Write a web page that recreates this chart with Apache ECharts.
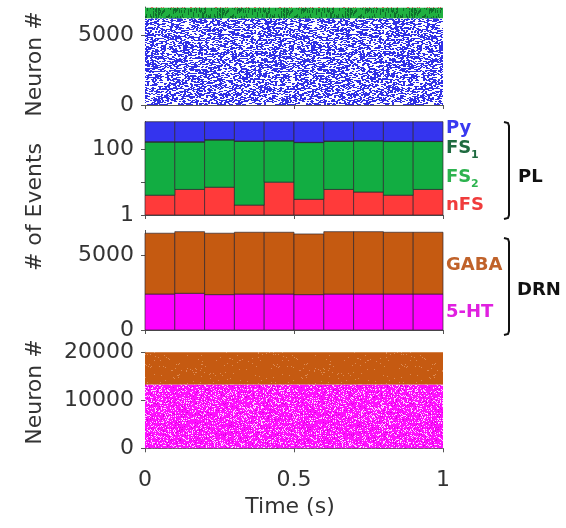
<!DOCTYPE html>
<html>
<head>
<meta charset="utf-8">
<script src="https://cdn.jsdelivr.net/npm/echarts@6/dist/echarts.min.js"></script>
<style>
  html, body { margin: 0; padding: 0; background: #fff; }
  #chart { width: 566px; height: 528px; }
</style>
</head>
<body>
<div id="chart"></div>
<script>
// ---- time axis ----
const timeRange = [0, 1];
const timeTicks = [0, 0.5, 1];
const binEdges = [0, 0.1, 0.2, 0.3, 0.4, 0.5, 0.6, 0.7, 0.8, 0.9, 1.0];

// ---- PL: events per 100 ms bin ----
const plNFS = [4, 6, 7, 2, 10, 3, 6, 5, 4, 6];
const plFS2 = [163, 161, 186, 174, 170, 157, 170, 175, 168, 166];
const plFS1 = [3, 3, 3, 3, 3, 3, 3, 3, 3, 3];
const plPy  = [520, 520, 494, 511, 507, 527, 511, 507, 515, 515];

// ---- DRN: events per 100 ms bin ----
const drn5HT  = [2420, 2470, 2380, 2420, 2420, 2380, 2420, 2420, 2420, 2420];
const drnGABA = [4090, 4145, 4130, 4155, 4155, 4080, 4195, 4195, 4155, 4155];

// ---- raster populations (neuron index ranges) ----
const plRasterPy  = [0, 6200];
const plRasterFS  = [6200, 6950];
const plRasterNFS = [6950, 7000];
const drnRaster5HT  = [0, 13300];
const drnRasterGABA = [13300, 20000];

// ---- y-axis ticks ----
const plRasterTicks  = [0, 5000];
const plCountTicks   = [1, 10, 100];
const plCountLabels  = [1, 100];
const drnCountTicks  = [0, 5000];
const drnRasterTicks = [0, 10000, 20000];

// ---- colours ----
const C = {
  py: '#3434ee', fs1: '#1f6b40', fs2: '#12ad42', nfs: '#ff3a3a',
  gaba: '#c55a11', ht: '#ff00ff',
  pyLabel: '#3a3af0', fs1Label: '#1f6b40', fs2Label: '#2db34f', nfsLabel: '#f03c3c',
  gabaLabel: '#c0622a', htLabel: '#e020e0',
  axis: '#555', text: '#333'
};
const FONT = '"DejaVu Sans", sans-serif';

// Speckle textures used to paint the spike rasters
function speckle(size, bg, layers, seed) {
  const c = document.createElement('canvas');
  c.width = c.height = size;
  const ctx = c.getContext('2d');
  if (bg) { ctx.fillStyle = bg; ctx.fillRect(0, 0, size, size); }
  let s = seed >>> 0;
  const next = () => (s = (s * 1664525 + 1013904223) >>> 0) / 4294967296;
  layers.forEach(l => {
    ctx.fillStyle = l.color;
    const n = Math.round(-Math.log(1 - l.coverage) * size * size / (l.w * l.h));
    for (let i = 0; i < n; i++) {
      const x = Math.floor(next() * size), y = Math.floor(next() * size);
      ctx.fillRect(x, y, l.w, l.h);
    }
  });
  return c;
}
const texPy   = speckle(128, '#ffffff', [{ color: '#3030e6', coverage: 0.55, w: 2, h: 1 }], 11);
const texFS   = speckle(64, '#20b040', [{ color: '#0e6e2c', coverage: 0.35, w: 1, h: 3 }], 23);
const texNFS  = speckle(64, null, [{ color: '#e84040', coverage: 0.18, w: 1, h: 1 }], 37);
const tex5HT  = speckle(128, '#ff10ff', [{ color: '#ffd0ff', coverage: 0.2, w: 1, h: 1 }, { color: '#e000e0', coverage: 0.1, w: 1, h: 1 }], 41);
const texGABA = speckle(128, '#c55a11', [{ color: '#dc8a52', coverage: 0.03, w: 1, h: 1 }], 53);

// Grid rectangles: left/right shared, vertical placement per panel
const LEFT = 145, RIGHT = 123;
const grids = [
  { left: LEFT, right: RIGHT, top: 7, height: 98 },
  { left: LEFT, right: RIGHT, top: 121.5, height: 93.5 },
  { left: LEFT, right: RIGHT, top: 230.4, height: 99.6 },
  { left: LEFT, right: RIGHT, top: 352.3, height: 96 }
];

function xAxis(gridIndex, showLabels) {
  return {
    type: 'value', gridIndex, min: timeRange[0], max: timeRange[1], interval: 0.5,
    axisLine: { show: true, onZero: false, lineStyle: { color: C.axis, width: 1 } },
    axisTick: { show: true, length: 4, lineStyle: { color: C.axis } },
    axisLabel: { show: showLabels, fontSize: 22, color: C.text, margin: 21, fontFamily: FONT,
      customValues: timeTicks, formatter: v => String(v) },
    splitLine: { show: false }
  };
}
function yAxis(gridIndex, opts) {
  return Object.assign({
    type: 'value', gridIndex,
    axisLine: { show: true, onZero: false, lineStyle: { color: C.axis, width: 1 } },
    axisTick: { show: true, length: 4, lineStyle: { color: C.axis }, customValues: opts.ticks },
    axisLabel: { fontSize: 22, color: C.text, margin: 11, fontFamily: FONT,
      customValues: opts.labels || opts.ticks, formatter: v => String(v) },
    splitLine: { show: false }
  }, opts.extra);
}

// Rectangle painter: each item is [x0, x1, y0, y1]
function rectRenderer(fill, stroke) {
  return function (params, api) {
    const a = api.coord([api.value(0), api.value(3)]);
    const b = api.coord([api.value(1), api.value(2)]);
    return {
      type: 'rect',
      shape: { x: a[0], y: a[1], width: b[0] - a[0], height: b[1] - a[1] },
      style: stroke ? { fill, stroke, lineWidth: 0.8 } : { fill }
    };
  };
}
function rasterSeries(gridIndex, range, tex) {
  return {
    type: 'custom', xAxisIndex: gridIndex, yAxisIndex: gridIndex,
    renderItem: rectRenderer({ image: tex, repeat: 'repeat' }, null),
    encode: { x: [0, 1], y: [2, 3] },
    data: [[timeRange[0], timeRange[1], range[0], range[1]]],
    silent: true
  };
}
// Stacked histogram layers built from the per-bin counts.
// The first layer starts at the axis floor; every later layer sits on the running sum.
function stackedSeries(gridIndex, layers, floor) {
  const sums = binEdges.slice(1).map(() => 0);
  return layers.map((l, k) => {
    const data = l.values.map((v, i) => {
      const y0 = k === 0 ? floor : sums[i];
      sums[i] += v;
      return [binEdges[i], binEdges[i + 1], y0, sums[i]];
    });
    return {
      type: 'custom', xAxisIndex: gridIndex, yAxisIndex: gridIndex,
      renderItem: rectRenderer(l.color, 'rgba(45,35,45,0.85)'),
      encode: { x: [0, 1], y: [2, 3] },
      data, silent: true
    };
  });
}

const plLayers = [
  { values: plNFS, color: C.nfs },
  { values: plFS2, color: C.fs2 },
  { values: plFS1, color: C.fs1 },
  { values: plPy, color: C.py }
];
const drnLayers = [
  { values: drn5HT, color: C.ht },
  { values: drnGABA, color: C.gaba }
];

function label(text, x, y, color, size) {
  return { type: 'text', x, y, silent: true,
    style: { text, fill: color, font: 'bold ' + (size || 17) + 'px ' + FONT, textVerticalAlign: 'middle' } };
}
function axisTitle(text, x, y, rotate, size) {
  return { type: 'text', x, y, rotation: rotate ? Math.PI / 2 : 0, silent: true,
    style: { text, fill: C.text, font: (size || 22) + 'px ' + FONT, textAlign: 'center', textVerticalAlign: 'middle' } };
}
function bracket(x, y0, y1) {
  return { type: 'polyline', silent: true,
    shape: { points: [[x - 5, y0], [x - 1, y0 + 1], [x, y0 + 4], [x, y1 - 4], [x - 1, y1 - 1], [x - 5, y1]] },
    style: { stroke: '#111', lineWidth: 2, fill: null } };
}

const option = {
  animation: false,
  backgroundColor: '#fff',
  grid: grids,
  xAxis: [xAxis(0, false), xAxis(1, false), xAxis(2, false), xAxis(3, true)],
  yAxis: [
    yAxis(0, { ticks: plRasterTicks, extra: { min: 0, max: 7000 } }),
    yAxis(1, { ticks: plCountTicks, labels: plCountLabels, extra: { type: 'log', logBase: 10, min: 1, max: 700 } }),
    yAxis(2, { ticks: drnCountTicks, extra: { min: 0, max: 6700 } }),
    yAxis(3, { ticks: drnRasterTicks, extra: { min: 0, max: 20000 } })
  ],
  series: [
    rasterSeries(0, plRasterPy, texPy),
    rasterSeries(0, plRasterFS, texFS),
    rasterSeries(0, plRasterNFS, texNFS),
    ...stackedSeries(1, plLayers, 1),
    ...stackedSeries(2, drnLayers, 0),
    rasterSeries(3, drnRaster5HT, tex5HT),
    rasterSeries(3, drnRasterGABA, texGABA)
  ],
  graphic: [
    axisTitle('Neuron #', 35, 64, true),
    axisTitle('# of Events', 35, 207, true),
    axisTitle('Neuron #', 35, 392, true),
    axisTitle('Time (s)', 290, 507, false, 22),
    label('Py', 446, 128, C.pyLabel, 18),
    label('FS', 446, 148, C.fs1Label, 18),
    label('1', 471, 155, C.fs1Label, 11),
    label('FS', 446, 177, C.fs2Label, 18),
    label('2', 471, 184, C.fs2Label, 11),
    label('nFS', 446, 205, C.nfsLabel, 18),
    label('GABA', 446, 265, C.gabaLabel, 18),
    label('5-HT', 446, 312, C.htLabel, 18),
    bracket(509, 122, 219),
    label('PL', 518, 177, '#111', 18),
    bracket(509, 238, 335),
    label('DRN', 517, 290, '#111', 18)
  ]
};

const chart = echarts.init(document.getElementById('chart'), null, { renderer: 'canvas' });
chart.setOption(option);
</script>
</body>
</html>
